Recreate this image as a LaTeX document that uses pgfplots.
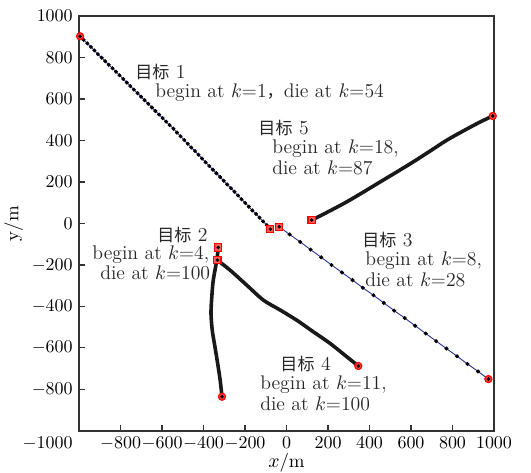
\documentclass[border=0pt]{standalone}
\usepackage{fontspec}
\usepackage{pgfplots}
\pgfplotsset{compat=1.18}
\newfontfamily\cjk{Noto Sans CJK SC}
\definecolor{trk}{RGB}{40,50,150}
\begin{document}
\begin{tikzpicture}
\begin{axis}[
  scale only axis, width=231pt, height=231pt,
  xmin=-1000, xmax=1000, ymin=-1000, ymax=1000,
  /pgf/number format/1000 sep={},
  axis line style={line width=1pt, black!80},
  tick align=inside, xtick pos=left, ytick pos=left,
  xtick={-800,-600,...,1000}, ytick={-800,-600,...,1000},
  extra x ticks={-1000}, extra x tick style={xticklabel style={xshift=-17.5pt}, major tick length=0pt},
  tick style={black!80, line width=0.6pt}, major tick length=3.5pt,
  tick label style={font=\fontsize{10}{12}\selectfont},
  xlabel={$x$/m}, ylabel={y/m},
  label style={font=\fontsize{10.5}{12}\selectfont},
  xlabel style={yshift=5pt},
  ylabel style={yshift=-2pt},
  clip=false,
]
% Target 1
\addplot[trk, line width=0.5pt, mark=*, mark size=0.85pt, mark options={black, fill=black}] coordinates {
(-995,902) (-978,885) (-960,868) (-943,851) (-926,834) (-909,816) (-891,799) (-874,782)
(-857,765) (-839,748) (-822,731) (-805,714) (-787,696) (-770,679) (-753,662) (-736,645)
(-718,628) (-701,611) (-684,594) (-666,577) (-649,559) (-632,542) (-614,525) (-597,508)
(-580,491) (-563,474) (-545,457) (-528,438) (-511,420) (-493,402) (-476,384) (-459,366)
(-441,349) (-424,331) (-407,313) (-390,295) (-372,277) (-355,259) (-338,242) (-320,224)
(-303,206) (-286,188) (-268,170) (-251,153) (-234,135) (-217,117) (-199,99) (-182,81)
(-165,63) (-147,46) (-130,28) (-113,10) (-95,-8) (-78,-27)};
% Target 3
\addplot[trk, line width=0.5pt, mark=*, mark size=0.85pt, mark options={black, fill=black}] coordinates {
(-35,-16) (15,-53) (66,-89) (116,-126) (167,-163) (217,-200) (267,-236) (318,-273)
(368,-310) (419,-346) (469,-383) (519,-420) (570,-456) (620,-493) (671,-530) (721,-567)
(771,-603) (822,-640) (872,-677) (923,-713) (973,-750)};
% Target 5
\addplot[black!90, line width=2pt, smooth] coordinates {
(121,16) (200,56) (290,104) (370,151) (451,200) (531,248) (611,297) (692,349)
(772,401) (852,446) (933,489) (994,518)};
% Target 2
\addplot[black!90, line width=2pt, smooth] coordinates {
(-329,-116) (-336,-177) (-353,-273) (-360,-353) (-364,-433) (-358,-514)
(-345,-594) (-332,-674) (-320,-754) (-311,-835)};
% Target 4
\addplot[black!90, line width=2pt, smooth] coordinates {
(-333,-177) (-272,-225) (-192,-297) (-112,-369) (-31,-417) (49,-466)
(129,-522) (210,-578) (290,-642) (346,-687)};
% red circles (end points)
\addplot[only marks, mark=*, mark size=2pt, mark options={draw=red, fill=red!75, line width=0.6pt}] coordinates {
(-995,902) (973,-750) (994,518) (-311,-835) (346,-687)};
% red squares (start points)
\addplot[only marks, mark=square*, mark size=2pt, mark options={draw=red, fill=red!65, line width=0.6pt}] coordinates {
(-78,-27) (-35,-16) (121,16) (-329,-116) (-333,-177)};
% black centres
\addplot[only marks, mark=*, mark size=0.8pt, mark options={black, fill=black}] coordinates {
(-995,902) (973,-750) (994,518) (-311,-835) (346,-687)
(-78,-27) (-35,-16) (121,16) (-329,-116) (-333,-177)};
% labels
\begin{scope}[every node/.style={anchor=west, inner sep=0pt, font=\fontsize{11}{12}\selectfont, text=black!85}]
\node at (axis cs:-730,728) {{\cjk\fontsize{9.5}{10}\selectfont 目标} 1};
\node at (axis cs:-634,631) {begin at $k$=1{\cjk\fontsize{9.5}{10}\selectfont ，}die at $k$=54};
\node at (axis cs:-137,462) {{\cjk\fontsize{9.5}{10}\selectfont 目标} 5};
\node at (axis cs:-70,362) {begin at $k$=18,};
\node at (axis cs:-70,270) {die at $k$=87};
\node at (axis cs:364,-81) {{\cjk\fontsize{9.5}{10}\selectfont 目标} 3};
\node at (axis cs:378,-178) {begin at $k$=8,};
\node at (axis cs:378,-270) {die at $k$=28};
\node at (axis cs:-624,-57) {{\cjk\fontsize{9.5}{10}\selectfont 目标} 2};
\node at (axis cs:-937,-149) {begin at $k$=4,};
\node at (axis cs:-899,-240) {die at $k$=100};
\node at (axis cs:-31,-678) {{\cjk\fontsize{9.5}{10}\selectfont 目标} 4};
\node at (axis cs:-128,-775) {begin at $k$=11,};
\node at (axis cs:-128,-871) {die at $k$=100};
\end{scope}
\end{axis}
\pgfresetboundingbox
\path ([shift={(-44pt,-23.4pt)}]current axis.south west) rectangle ([shift={(20.6pt,8.9pt)}]current axis.north east);
\end{tikzpicture}
\end{document}
